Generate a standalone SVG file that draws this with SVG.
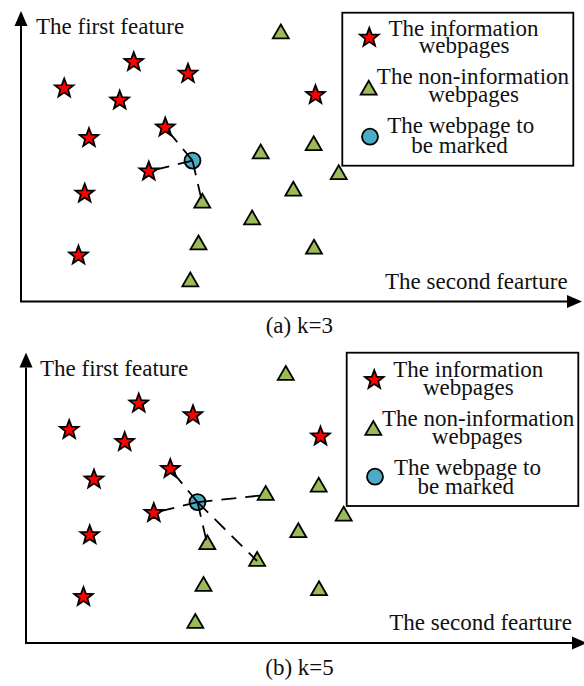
<svg xmlns="http://www.w3.org/2000/svg" xmlns:xlink="http://www.w3.org/1999/xlink" width="584" height="686" viewBox="0 0 584 686">
  <style>
    text { font-family: "Liberation Serif", "Times New Roman", serif; font-size: 23px; fill: #111; }
    .mid { text-anchor: middle; }
    .axis { fill: none; stroke: #000; stroke-width: 2; }
    .star { fill: #FF0000; stroke: #000; stroke-width: 1.8; }
    .tri { fill: #9BBB59; stroke: #000; stroke-width: 1.8; }
    .query { fill: #4BACC6; stroke: #000; stroke-width: 1.8; }
    .link { fill: none; stroke: #000; stroke-width: 1.8; stroke-dasharray: 15 9; }
    .box { fill: #fff; stroke: #000; stroke-width: 1.8; }
  </style>
  <defs>
    <marker id="arrow" markerUnits="userSpaceOnUse" markerWidth="16" markerHeight="14" refX="0" refY="7" orient="auto-start-reverse" viewBox="0 0 16 14">
      <path d="M0,0.5 L15,7 L0,13.5 Z" fill="#000"/>
    </marker>
    <path id="starShape" d="M0,-9.8 L2.41,-3.317 L9.32,-3.028 L3.899,1.267 L5.76,7.928 L0,4.1 L-5.76,7.928 L-3.899,1.267 L-9.32,-3.028 L-2.41,-3.317 Z"/>
    <path id="triShape" d="M0,-6.5 L8,7.4 L-8,7.4 Z"/>
  </defs>

  <!-- (a) k=3 -->
  <g id="panel-a">
    <g id="a-axes">
      <polyline class="axis" points="21,26 21,301.5 567,301.5" marker-start="url(#arrow)" marker-end="url(#arrow)"/>
      <text x="36" y="33.5">The first feature</text>
      <text x="385" y="289.3">The second fearture</text>
    </g>

    <g id="a-legend">
      <rect class="box" x="342.3" y="12.7" width="231" height="153"/>
      <use href="#starShape" class="star" x="369.3" y="37.7"/>
      <text class="mid" x="463.5" y="35.7">The information</text>
      <text class="mid" x="464" y="53.3">webpages</text>
      <use href="#triShape" class="tri" x="368.7" y="87.3"/>
      <text class="mid" x="473" y="84">The non-information</text>
      <text class="mid" x="473.5" y="101.7">webpages</text>
      <circle class="query" cx="370" cy="136.7" r="8"/>
      <text class="mid" x="460.7" y="133.3">The webpage to</text>
      <text class="mid" x="459.5" y="153.3">be marked</text>
    </g>

    <g id="a-star-1"><use href="#starShape" class="star" x="133.8" y="62"/></g>
    <g id="a-star-2"><use href="#starShape" class="star" x="188" y="73.7"/></g>
    <g id="a-star-3"><use href="#starShape" class="star" x="64.2" y="88.4"/></g>
    <g id="a-star-4"><use href="#starShape" class="star" x="119.7" y="100.5"/></g>
    <g id="a-star-5"><use href="#starShape" class="star" x="315.5" y="95"/></g>
    <g id="a-star-6"><use href="#starShape" class="star" x="165.3" y="127.5"/></g>
    <g id="a-star-7"><use href="#starShape" class="star" x="89" y="138"/></g>
    <g id="a-star-8"><use href="#starShape" class="star" x="148.8" y="171.4"/></g>
    <g id="a-star-9"><use href="#starShape" class="star" x="84.7" y="193.6"/></g>
    <g id="a-star-10"><use href="#starShape" class="star" x="78.5" y="255.5"/></g>

    <g id="a-tri-1"><use href="#triShape" class="tri" x="280.8" y="31"/></g>
    <g id="a-tri-2"><use href="#triShape" class="tri" x="313.7" y="142.7"/></g>
    <g id="a-tri-3"><use href="#triShape" class="tri" x="260.7" y="151"/></g>
    <g id="a-tri-4"><use href="#triShape" class="tri" x="338.7" y="171.7"/></g>
    <g id="a-tri-5"><use href="#triShape" class="tri" x="293.3" y="188.3"/></g>
    <g id="a-tri-6"><use href="#triShape" class="tri" x="202.3" y="200.3"/></g>
    <g id="a-tri-7"><use href="#triShape" class="tri" x="252.1" y="217"/></g>
    <g id="a-tri-8"><use href="#triShape" class="tri" x="198.5" y="242"/></g>
    <g id="a-tri-9"><use href="#triShape" class="tri" x="314" y="246.3"/></g>
    <g id="a-tri-10"><use href="#triShape" class="tri" x="190.3" y="279"/></g>

    <g id="a-query"><circle class="query" cx="192.5" cy="160.6" r="8"/></g>

    <!-- three nearest neighbours -->
    <g id="a-links">
      <line class="link" x1="192.5" y1="160.6" x2="165.3" y2="127.5"/>
      <line class="link" x1="192.5" y1="160.6" x2="148.8" y2="171.4"/>
      <line class="link" x1="192.5" y1="160.6" x2="202.3" y2="203"/>
    </g>

    <text class="mid" x="299.3" y="333">(a) k=3</text>
  </g>

  <!-- (b) k=5 -->
  <g id="panel-b">
    <g transform="translate(5,341.5)">
      <g id="b-axes">
        <polyline class="axis" points="21,26 21,301.5 567,301.5" marker-start="url(#arrow)" marker-end="url(#arrow)"/>
      </g>
    </g>
    <text x="40" y="375.7">The first feature</text>
    <text x="389.3" y="630">The second fearture</text>

    <g id="b-legend">
      <rect class="box" x="346.7" y="352.7" width="231.6" height="153.3"/>
      <use href="#starShape" class="star" x="374.3" y="380"/>
      <text class="mid" x="468.3" y="376.7">The information</text>
      <text class="mid" x="468.3" y="395">webpages</text>
      <use href="#triShape" class="tri" x="373.3" y="427.5"/>
      <text class="mid" x="478.2" y="426">The non-information</text>
      <text class="mid" x="477.2" y="444">webpages</text>
      <circle class="query" cx="375" cy="476.7" r="8"/>
      <text class="mid" x="467.5" y="475">The webpage to</text>
      <text class="mid" x="465.7" y="494">be marked</text>
    </g>

    <g transform="translate(5,341.5)">
      <g id="b-star-1"><use href="#starShape" class="star" x="133.8" y="62"/></g>
      <g id="b-star-2"><use href="#starShape" class="star" x="188" y="73.7"/></g>
      <g id="b-star-3"><use href="#starShape" class="star" x="64.2" y="88.4"/></g>
      <g id="b-star-4"><use href="#starShape" class="star" x="119.7" y="100.5"/></g>
      <g id="b-star-5"><use href="#starShape" class="star" x="315.5" y="95"/></g>
      <g id="b-star-6"><use href="#starShape" class="star" x="165.3" y="127.5"/></g>
      <g id="b-star-7"><use href="#starShape" class="star" x="89" y="138"/></g>
      <g id="b-star-8"><use href="#starShape" class="star" x="148.8" y="171.4"/></g>
      <g id="b-star-9"><use href="#starShape" class="star" x="84.7" y="193.6"/></g>
      <g id="b-star-10"><use href="#starShape" class="star" x="78.5" y="255.5"/></g>

      <g id="b-tri-1"><use href="#triShape" class="tri" x="280.8" y="31"/></g>
      <g id="b-tri-2"><use href="#triShape" class="tri" x="313.7" y="142.7"/></g>
      <g id="b-tri-3"><use href="#triShape" class="tri" x="260.7" y="151"/></g>
      <g id="b-tri-4"><use href="#triShape" class="tri" x="338.7" y="171.7"/></g>
      <g id="b-tri-5"><use href="#triShape" class="tri" x="293.3" y="188.3"/></g>
      <g id="b-tri-6"><use href="#triShape" class="tri" x="202.3" y="200.3"/></g>
      <g id="b-tri-7"><use href="#triShape" class="tri" x="252.1" y="217"/></g>
      <g id="b-tri-8"><use href="#triShape" class="tri" x="198.5" y="242"/></g>
      <g id="b-tri-9"><use href="#triShape" class="tri" x="314" y="246.3"/></g>
      <g id="b-tri-10"><use href="#triShape" class="tri" x="190.3" y="279"/></g>

      <g id="b-query"><circle class="query" cx="192.5" cy="160.6" r="8"/></g>

      <!-- five nearest neighbours -->
      <g id="b-links">
        <line class="link" x1="192.5" y1="160.6" x2="165.3" y2="127.5"/>
        <line class="link" x1="192.5" y1="160.6" x2="148.8" y2="171.4"/>
        <line class="link" x1="192.5" y1="160.6" x2="260.7" y2="153.5"/>
        <line class="link" x1="192.5" y1="160.6" x2="202.3" y2="203"/>
        <line class="link" x1="192.5" y1="160.6" x2="252.1" y2="219.5"/>
      </g>
    </g>

    <text class="mid" x="299.5" y="675">(b) k=5</text>
  </g>
</svg>
